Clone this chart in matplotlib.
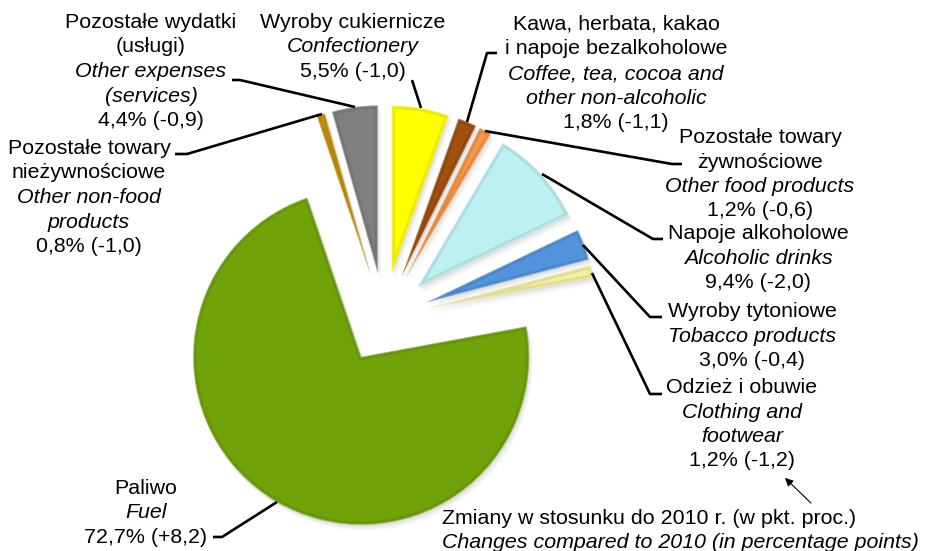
"""
Pie chart of shares of expenditure groups with changes vs 2010
"""

import numpy as np
import matplotlib.pyplot as plt
from matplotlib.patches import Wedge

plt.rcParams['font.family'] = ['Liberation Sans', 'DejaVu Sans']

# Slices clockwise from 12 o'clock
names_pl = ['Wyroby cukiernicze',
            'Kawa, herbata, kakao\ni napoje bezalkoholowe',
            'Pozostałe towary\nżywnościowe',
            'Napoje alkoholowe',
            'Wyroby tytoniowe',
            'Odzież i obuwie',
            'Paliwo',
            'Pozostałe towary\nnieżywnościowe',
            'Pozostałe wydatki\n(usługi)']
names_en = ['Confectionery',
            'Coffee, tea, cocoa and\nother non-alcoholic',
            'Other food products',
            'Alcoholic drinks',
            'Tobacco products',
            'Clothing and\nfootwear',
            'Fuel',
            'Other non-food\nproducts',
            'Other expenses\n(services)']
shares = [5.5, 1.8, 1.2, 9.4, 3.0, 1.2, 72.7, 0.8, 4.4]
changes = [-1.0, -1.1, -0.6, -2.0, -0.4, -1.2, 8.2, -1.0, -0.9]
colors = ['#ffff00', '#a0500f', '#f79646', '#bdf0f2', '#5294dc',
          '#f5f0a0', '#70a30a', '#c89208', '#7f7f7f']

# label layout in pixels (x centre, first baseline y from top)
label_x = [353, 616, 760, 758, 752, 742, 146, 89, 151]
label_y = [28, 30, 143, 239, 317, 393, 494, 154, 28]
leaders = [
    [(412, 80), (421, 108)],
    [(497, 53), (487, 53), (467, 122)],
    [(485, 131), (672, 164), (682, 164)],
    [(542, 174), (653, 239), (663, 239)],
    [(583, 245), (650, 317), (662, 317)],
    [(592, 273), (650, 394), (662, 394)],
    [(213, 537), (222, 537), (277, 502)],
    [(175, 154), (187, 154), (322, 114)],
    [(232, 80), (240, 80), (355, 107)],
]

W, H = 927, 551
LINE = 24.5
FS = 15.4

fig = plt.figure(figsize=(W / 100, H / 100), dpi=100)
ax = fig.add_axes([0, 0, 1, 1])


def py(y):
    return H - y


wedges, _ = ax.pie(shares, colors=colors, startangle=90, counterclock=False,
                   center=(384, py(318)), radius=168, explode=[45] * len(shares),
                   frame=True, wedgeprops=dict(linewidth=0, zorder=3))
ax.set_xlim(0, W)
ax.set_ylim(0, H)
ax.axis('off')

# soft shadow + bevel
for w, c in zip(wedges, colors):
    cx, cy = w.center
    for k, a in zip([6, 4, 2], [0.05, 0.08, 0.12]):
        ax.add_patch(Wedge((cx + k * 0.6, cy - k), w.r, w.theta1, w.theta2,
                           facecolor='#808080', edgecolor='none', alpha=a, zorder=2))
    band = Wedge((cx, cy), w.r, w.theta1, w.theta2, facecolor='none',
                 edgecolor='black', linewidth=5, alpha=0.08, zorder=4)
    ax.add_patch(band)
    band.set_clip_path(w)
    hl = Wedge((cx, cy), w.r, w.theta1, w.theta2, facecolor='none',
               edgecolor='white', linewidth=1.2, alpha=0.35, zorder=4)
    ax.add_patch(hl)
    hl.set_clip_path(w)

# labels
for i in range(len(shares)):
    lines = [(t, 'normal') for t in names_pl[i].split('\n')]
    lines += [(t, 'italic') for t in names_en[i].split('\n')]
    val = f"{shares[i]:.1f}% ({changes[i]:+.1f})".replace('.', ',')
    lines.append((val, 'normal'))
    for j, (t, st) in enumerate(lines):
        ax.text(label_x[i], py(label_y[i] + j * LINE), t, fontsize=FS, style=st,
                ha='center', va='baseline', zorder=6)
    pts = leaders[i]
    ax.plot([p[0] for p in pts], [py(p[1]) for p in pts], color='black',
            lw=1.9, solid_capstyle='butt', zorder=5)

# note
ax.text(442, py(524), 'Zmiany w stosunku do 2010 r. (w pkt. proc.)', fontsize=FS,
        ha='left', va='baseline')
ax.text(442, py(524 + LINE), 'Changes compared to 2010 (in percentage points)',
        fontsize=FS, style='italic', ha='left', va='baseline')
ax.annotate('', xy=(783, py(476)), xytext=(813, py(505)),
            arrowprops=dict(arrowstyle='-|>', lw=0.8, color='black', mutation_scale=12))

plt.savefig('out.png', dpi=100)
